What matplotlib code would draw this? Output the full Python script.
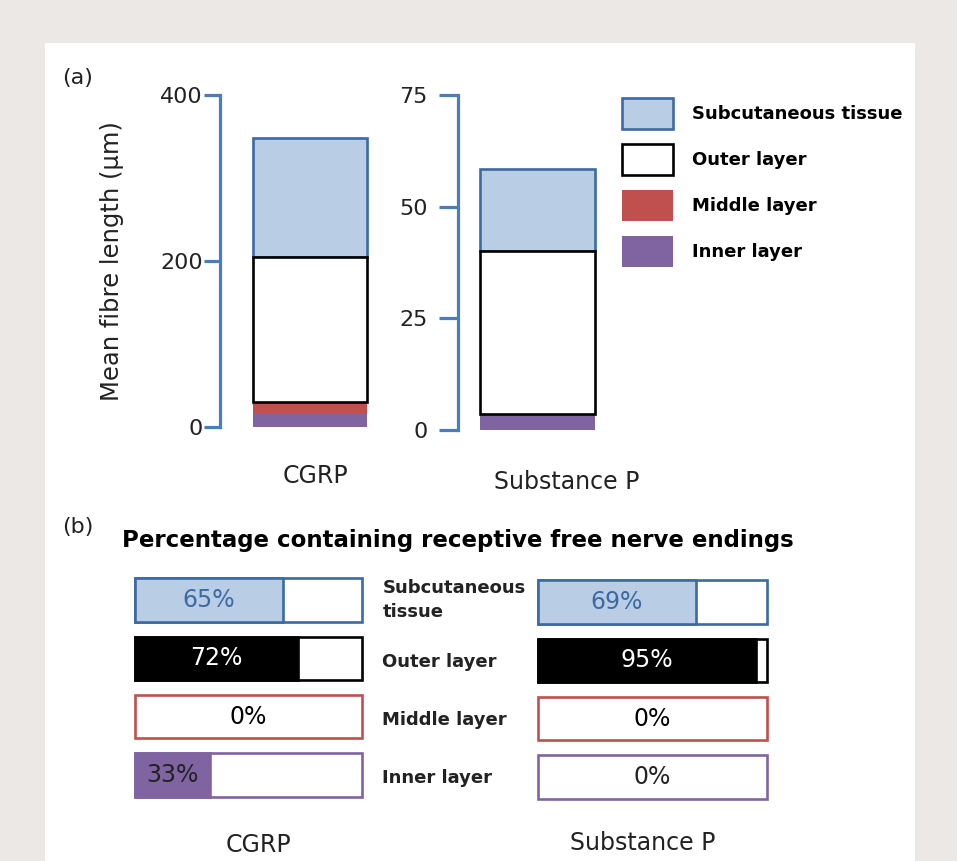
import matplotlib
matplotlib.use("Agg")
import matplotlib.pyplot as plt
from matplotlib.patches import Rectangle

plt.rcParams['font.family'] = ['DejaVu Sans']

# (a) mean fibre length per layer (µm), stacked from inner to subcutaneous
layers = ['Subcutaneous tissue', 'Outer layer', 'Middle layer', 'Inner layer']
cgrp_len = {'Inner layer': 17, 'Middle layer': 13, 'Outer layer': 175, 'Subcutaneous tissue': 143}
subp_len = {'Inner layer': 3.5, 'Middle layer': 0, 'Outer layer': 36.5, 'Subcutaneous tissue': 18.5}
cgrp_ticks = [0, 200, 400]
subp_ticks = [0, 25, 50, 75]

# (b) percentage containing receptive free nerve endings
row_labels = ['Subcutaneous\ntissue', 'Outer layer', 'Middle layer', 'Inner layer']
cgrp_pct = [65, 72, 0, 33]
subp_pct = [69, 95, 0, 0]

fill_col = {'Subcutaneous tissue': '#b9cde5', 'Outer layer': 'white',
            'Middle layer': '#c0504d', 'Inner layer': '#8064a2'}
edge_col = {'Subcutaneous tissue': '#3d6aa3', 'Outer layer': 'black',
            'Middle layer': 'none', 'Inner layer': 'none'}
row_fill = ['#b9cde5', 'black', '#c0504d', '#8064a2']
row_edge = ['#3d6aa3', 'black', '#c0504d', '#8064a2']
row_text = ['#3d6aa3', 'white', 'black', '#222222']
axis_blue = '#4a7ebb'

W, H = 957, 861
fig = plt.figure(figsize=(W / 100, H / 100), dpi=100, facecolor='#ece8e5')
fig.patches.append(Rectangle((45 / W, 0), 870 / W, 1 - 43 / H, transform=fig.transFigure,
                             facecolor='white', edgecolor='none', zorder=-5))


def px(x, y):
    return x / W, 1 - y / H


def stacked(ax, data, width):
    bottom = 0
    order = ['Inner layer', 'Middle layer', 'Outer layer', 'Subcutaneous tissue']
    zs = {'Inner layer': 2, 'Middle layer': 2, 'Outer layer': 4, 'Subcutaneous tissue': 3}
    handles = {}
    for name in order:
        v = data[name]
        b = ax.bar(0, v, width, bottom=bottom, color=fill_col[name],
                   edgecolor=edge_col[name], linewidth=1.9, zorder=zs[name], label=name)
        handles[name] = b
        bottom += v
    return handles


def style_axis(ax, ticks, length, pad):
    for s in ['top', 'right', 'bottom']:
        ax.spines[s].set_visible(False)
    ax.spines['left'].set_color(axis_blue)
    ax.spines['left'].set_linewidth(2.3)
    ax.spines['left'].set_bounds(ticks[0], ticks[-1])
    ax.set_yticks(ticks)
    ax.tick_params(axis='y', colors=axis_blue, length=length, width=2.3,
                   pad=pad, labelsize=16, labelcolor='#222222')
    ax.set_xticks([])
    ax.patch.set_alpha(0)


# left stack: CGRP
ax1 = fig.add_axes([220 / W, 1 - 427 / H, 180 / W, 332 / H])
handles = stacked(ax1, cgrp_len, 0.95)
ax1.set_xlim(-0.75, 0.75)
ax1.set_ylim(0, 400)
style_axis(ax1, cgrp_ticks, 11.5, 1)
ax1.set_ylabel('Mean fibre length (µm)', fontsize=17.5, color='#222222', labelpad=26)

# right stack: Substance P
ax2 = fig.add_axes([458 / W, 1 - 430 / H, 180 / W, 335 / H])
stacked(ax2, subp_len, 0.96)
ax2.set_xlim(-0.66, 0.84)
ax2.set_ylim(0, 75)
style_axis(ax2, subp_ticks, 14, 8)

fig.legend([handles[n] for n in layers], layers, loc='upper left',
           bbox_to_anchor=px(622, 98), frameon=False, borderpad=0, borderaxespad=0,
           handlelength=2.8, handleheight=2.3, labelspacing=0.8, handletextpad=1.1,
           prop={'size': 13, 'weight': 'bold'})

fig.text(*px(62, 78), '(a)', fontsize=16, va='center', color='#222222')
fig.text(*px(315, 476), 'CGRP', fontsize=17, ha='center', va='center', color='#222222')
fig.text(*px(567, 482), 'Substance P', fontsize=17, ha='center', va='center', color='#222222')

# (b) percentage boxes
fig.text(*px(62, 527), '(b)', fontsize=16, va='center', color='#222222')
fig.text(*px(122, 541), 'Percentage containing receptive free nerve endings',
         fontsize=16.5, fontweight='bold', va='center', color='black')


def pct_rows(ax, values):
    ys = list(range(len(values)))
    ax.barh(ys, [100] * len(values), 0.75, color='white', edgecolor=row_edge,
            linewidth=1.9, clip_on=False)
    for y, v, fc, ec, tc in zip(ys, values, row_fill, row_edge, row_text):
        if v > 0:
            ax.barh(y, v, 0.75, color=fc, edgecolor=ec, linewidth=1.9, clip_on=False)
        xt = v / 2 if v > 0 else 50
        ax.text(xt, y, f'{v}%', ha='center', va='center', fontsize=17, color=tc)
    ax.set_xlim(0, 100)
    ax.set_ylim(len(values) - 0.5, -0.5)
    ax.axis('off')


axl = fig.add_axes([135 / W, 1 - 804 / H, 227 / W, 233 / H])
pct_rows(axl, cgrp_pct)
axr = fig.add_axes([538 / W, 1 - 806 / H, 229 / W, 233 / H])
pct_rows(axr, subp_pct)

for i, lab in enumerate(row_labels):
    axl.text(1.09, i + (0 if i == 0 else 0.06), lab, transform=axl.get_yaxis_transform(),
             ha='left', va='center', fontsize=13, fontweight='bold', color='#222222',
             linespacing=1.4)

fig.text(*px(258, 845), 'CGRP', fontsize=17, ha='center', va='center', color='#222222')
fig.text(*px(643, 843), 'Substance P', fontsize=17, ha='center', va='center', color='#222222')

fig.savefig('out.png', dpi=100, facecolor=fig.get_facecolor())
